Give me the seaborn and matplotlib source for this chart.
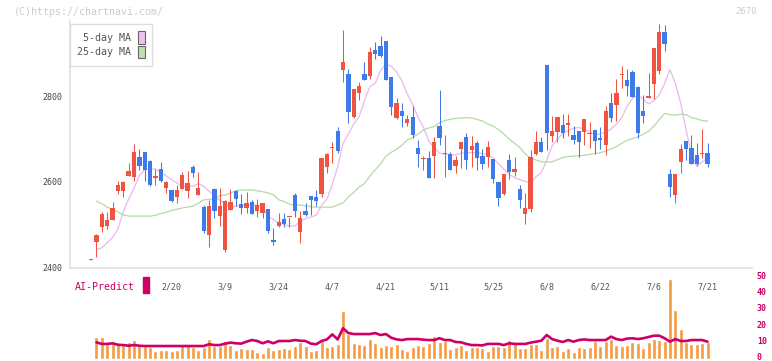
import numpy as np
import pandas as pd
import matplotlib
matplotlib.use("Agg")
import matplotlib.pyplot as plt
from matplotlib.patches import Patch, Rectangle
from matplotlib.transforms import ScaledTranslation
import seaborn as sns

# daily candles (oldest -> newest)
opens = [2418, 2459, 2495, 2497, 2511, 2579, 2579, 2613, 2612, 2658,
         2670, 2649, 2609, 2630, 2586, 2581, 2565, 2583, 2579, 2635,
         2569, 2541, 2475, 2583, 2520, 2440, 2534, 2578, 2548, 2539,
         2553, 2532, 2528, 2536, 2464, 2497, 2513, 2517, 2570, 2483,
         2532, 2567, 2564, 2571, 2635, 2678, 2719, 2861, 2852, 2751,
         2808, 2852, 2847, 2908, 2918, 2929, 2845, 2749, 2765, 2738,
         2751, 2679, 2653, 2655, 2660, 2730, 2664, 2665, 2637, 2677,
         2705, 2674, 2690, 2660, 2658, 2653, 2600, 2571, 2651, 2623,
         2583, 2525, 2536, 2665, 2693, 2873, 2707, 2716, 2733, 2733,
         2709, 2719, 2716, 2711, 2721, 2702, 2686, 2784, 2780, 2849,
         2838, 2857, 2822, 2765, 2796, 2829, 2859, 2950, 2618, 2569,
         2646, 2695, 2679, 2663, 2665, 2668]
highs = [2421, 2479, 2529, 2529, 2553, 2602, 2602, 2645, 2688, 2677,
         2670, 2651, 2630, 2646, 2602, 2581, 2592, 2623, 2625, 2639,
         2623, 2546, 2557, 2585, 2585, 2557, 2583, 2581, 2571, 2576,
         2557, 2560, 2551, 2536, 2492, 2527, 2527, 2519, 2574, 2532,
         2551, 2567, 2581, 2655, 2668, 2693, 2728, 2955, 2864, 2817,
         2833, 2880, 2915, 2927, 2941, 2929, 2845, 2796, 2784, 2756,
         2777, 2698, 2660, 2672, 2705, 2815, 2709, 2670, 2660, 2693,
         2714, 2707, 2695, 2677, 2695, 2653, 2600, 2618, 2665, 2658,
         2592, 2574, 2674, 2719, 2705, 2873, 2754, 2751, 2759, 2759,
         2730, 2719, 2747, 2740, 2721, 2728, 2777, 2808, 2840, 2871,
         2864, 2861, 2824, 2803, 2855, 2913, 2969, 2967, 2630, 2618,
         2688, 2695, 2709, 2690, 2723, 2690]
lows = [2418, 2425, 2483, 2490, 2511, 2571, 2565, 2613, 2602, 2628,
        2602, 2590, 2592, 2600, 2574, 2553, 2550, 2583, 2562, 2611,
        2569, 2480, 2447, 2515, 2497, 2436, 2534, 2543, 2525, 2527,
        2525, 2518, 2515, 2481, 2452, 2494, 2494, 2495, 2518, 2458,
        2520, 2522, 2543, 2565, 2621, 2645, 2667, 2833, 2737, 2748,
        2791, 2838, 2841, 2887, 2892, 2838, 2756, 2747, 2728, 2730,
        2702, 2635, 2628, 2609, 2609, 2686, 2611, 2628, 2621, 2632,
        2630, 2635, 2628, 2630, 2635, 2597, 2543, 2569, 2607, 2614,
        2539, 2501, 2529, 2663, 2670, 2674, 2693, 2693, 2702, 2707,
        2688, 2658, 2686, 2679, 2665, 2677, 2663, 2740, 2742, 2819,
        2800, 2798, 2702, 2737, 2796, 2793, 2852, 2906, 2564, 2550,
        2621, 2651, 2641, 2639, 2655, 2635]
closes = [2421, 2476, 2526, 2511, 2539, 2592, 2600, 2625, 2670, 2638,
          2628, 2593, 2614, 2602, 2600, 2555, 2581, 2616, 2597, 2620,
          2586, 2485, 2543, 2532, 2543, 2555, 2553, 2560, 2539, 2551,
          2525, 2546, 2551, 2486, 2460, 2507, 2501, 2519, 2532, 2516,
          2522, 2557, 2555, 2655, 2665, 2680, 2673, 2880, 2763, 2817,
          2824, 2838, 2904, 2899, 2894, 2838, 2775, 2784, 2754, 2747,
          2709, 2665, 2656, 2609, 2693, 2702, 2666, 2628, 2651, 2693,
          2651, 2684, 2655, 2641, 2681, 2607, 2562, 2618, 2623, 2630,
          2557, 2539, 2658, 2693, 2670, 2715, 2719, 2751, 2714, 2737,
          2698, 2693, 2747, 2713, 2695, 2698, 2765, 2749, 2808, 2851,
          2824, 2798, 2714, 2754, 2800, 2913, 2950, 2922, 2588, 2618,
          2677, 2677, 2641, 2642, 2668, 2642]

nan = np.nan
ma5 = [nan, 2442, 2446, 2458, 2470, 2490, 2530, 2560, 2585, 2615,
       2629, 2630, 2630, 2622, 2614, 2606, 2597, 2590, 2589, 2590,
       2596, 2590, 2578, 2568, 2557, 2550, 2540, 2543, 2545, 2546,
       2546, 2546, 2540, 2520, 2512, 2504, 2500, 2497, 2497, 2508,
       2514, 2518, 2522, 2545, 2560, 2595, 2635, 2690, 2712, 2735,
       2752, 2790, 2822, 2830, 2860, 2875, 2870, 2857, 2835, 2805,
       2780, 2750, 2728, 2695, 2680, 2667, 2665, 2663, 2663, 2667,
       2668, 2668, 2668, 2666, 2663, 2656, 2642, 2630, 2617, 2610,
       2605, 2601, 2598, 2612, 2622, 2650, 2684, 2700, 2713, 2720,
       2725, 2727, 2722, 2717, 2710, 2712, 2716, 2723, 2735, 2750,
       2776, 2795, 2803, 2793, 2782, 2790, 2803, 2830, 2862, 2830,
       2784, 2721, 2667, 2635, 2647, 2655]
ma25 = [nan, 2555, 2549, 2541, 2535, 2530, 2523, 2520, 2520, 2520,
        2520, 2520, 2522, 2526, 2529, 2533, 2536, 2539, 2541, 2543,
        2550, 2558, 2559, 2560, 2568, 2569, 2574, 2579, 2581, 2581,
        2581, 2579, 2577, 2574, 2570, 2558, 2554, 2548, 2546, 2546,
        2544, 2542, 2541, 2541, 2541, 2541, 2546, 2551, 2565, 2575,
        2588, 2596, 2613, 2628, 2642, 2660, 2669, 2676, 2686, 2698,
        2703, 2712, 2721, 2726, 2729, 2738, 2743, 2746, 2748, 2749,
        2750, 2749, 2746, 2742, 2735, 2730, 2722, 2712, 2700, 2690,
        2680, 2665, 2656, 2651, 2647, 2646, 2647, 2652, 2657, 2659,
        2660, 2661, 2662, 2664, 2666, 2668, 2672, 2677, 2682, 2690,
        2697, 2701, 2705, 2711, 2718, 2730, 2745, 2760, 2757, 2756,
        2758, 2757, 2750, 2747, 2743, 2742]

volume = [0, 13.6, 13.6, 9.3, 10.1, 9.9, 8.6, 10.5, 11.7, 9.3,
          8.0, 7.2, 4.9, 5.6, 5.6, 4.9, 5.6, 9.3, 9.3, 7.2,
          5.6, 7.2, 12.3, 8.0, 8.0, 11.1, 8.6, 5.6, 6.8, 6.2,
          6.2, 4.3, 3.7, 7.4, 5.6, 6.2, 6.8, 6.2, 8.0, 10.5,
          8.0, 4.9, 5.6, 11.1, 7.4, 8.0, 9.3, 29.6, 15.4, 9.9,
          9.3, 8.6, 12.3, 9.9, 7.4, 8.6, 8.0, 9.3, 6.2, 4.9,
          7.4, 8.6, 8.0, 9.9, 14.2, 10.5, 11.1, 6.2, 7.4, 8.6,
          5.6, 7.4, 7.4, 6.8, 4.9, 8.0, 8.0, 7.4, 11.7, 9.9,
          6.8, 6.8, 9.3, 9.3, 5.6, 13.0, 7.4, 8.0, 4.9, 6.8,
          4.3, 7.4, 6.8, 7.4, 11.1, 8.0, 11.1, 12.3, 8.6, 8.0,
          8.6, 10.5, 9.9, 6.8, 10.5, 12.3, 11.7, 11.1, 49.4, 30.2,
          18.5, 10.5, 9.3, 9.3, 9.9, 10.5]
ai_predict = [nan, 10.3, 9.3, 9.3, 9.7, 8.8, 8.6, 8.2, 8.6, 8.2,
              8.0, 8.0, 8.0, 8.0, 8.0, 8.0, 8.0, 8.0, 8.0, 8.0,
              8.0, 8.0, 9.1, 8.6, 8.6, 9.5, 10.1, 9.7, 9.5, 10.7,
              11.7, 11.1, 9.7, 10.9, 9.7, 11.1, 11.1, 11.1, 11.7, 11.3,
              11.1, 9.5, 9.1, 11.1, 12.1, 15.2, 12.1, 19.0, 16.0, 15.4,
              15.4, 15.4, 15.4, 16.0, 14.8, 15.4, 13.1, 12.1, 11.7, 12.3,
              12.3, 12.3, 11.9, 11.7, 11.7, 12.8, 11.7, 11.7, 10.5, 10.3,
              9.3, 8.6, 8.6, 8.4, 9.3, 9.3, 9.3, 8.6, 9.7, 9.3,
              9.3, 9.3, 10.1, 10.7, 11.3, 14.8, 12.3, 11.3, 10.5, 11.7,
              10.7, 11.7, 12.1, 11.7, 11.7, 11.7, 11.7, 13.8, 12.3, 11.7,
              12.6, 12.8, 12.3, 12.8, 13.6, 14.4, 14.4, 12.8, 10.7, 12.3,
              11.1, 11.1, 11.7, 11.7, 11.7, 10.7]

date_labels = ["2/20", "3/9", "3/24", "4/7", "4/21", "5/11",
               "5/25", "6/8", "6/22", "7/6", "7/21"]
first_label_day = 15   # candle index of 2/20, then every 10 sessions
last_price_text = "2670"

RED = "#f0533f"
BLUE = "#3e7be9"
ORANGE = "#f39a43"
MAGENTA = "#cc0066"
PINK = "#eab8ec"
GREEN = "#b5daa5"
AXIS = "#dddddd"
TXT = "#555555"

df = pd.DataFrame({"open": opens, "high": highs, "low": lows, "close": closes,
                   "ma5": ma5, "ma25": ma25, "volume": volume, "ai": ai_predict})
df["day"] = np.arange(len(df))
df["color"] = np.where(df["close"] >= df["open"], RED, BLUE)

sns.set_theme(style="white")
plt.rcParams["font.family"] = ["DejaVu Sans Mono"]

W, H = 772, 361
fig = plt.figure(figsize=(W / 100, H / 100), dpi=100)


def box(l, t, r, b):
    return [l / W, 1 - b / H, (r - l) / W, (b - t) / H]


xlim = (-3.94, 123.3)

# volume + AI prediction panel
ax_vol = fig.add_axes(box(70, 278, 752, 359))
ax_vol.patch.set_alpha(0)
sns.barplot(data=df, x="day", y="volume", native_scale=True, color=ORANGE,
            saturation=1, width=0.75, errorbar=None, ax=ax_vol)
sns.lineplot(data=df, x="day", y="ai", color=MAGENTA, lw=1.9, ax=ax_vol)
ax_vol.set_xlim(xlim)
ax_vol.set_ylim(0, 50)
ax_vol.set_xticks([])
ax_vol.yaxis.tick_right()
ax_vol.set_yticks(range(0, 51, 10))
ax_vol.tick_params(axis="y", length=0, pad=3.5, labelsize=6, labelcolor=MAGENTA)
lift = ScaledTranslation(0, 2.5 / 100, fig.dpi_scale_trans)
for lab in ax_vol.get_yticklabels():
    lab.set_fontweight("bold")
    lab.set_transform(lab.get_transform() + lift)
for s in ax_vol.spines.values():
    s.set_visible(False)
ax_vol.set_xlabel("")
ax_vol.set_ylabel("")

# price panel
ax = fig.add_axes(box(70, 20, 752, 267.5))
ax.patch.set_alpha(0)
ax.vlines(df["day"], df["low"], df["high"], colors=df["color"], lw=0.75, zorder=2)
body = (df["close"] - df["open"]).abs().clip(lower=2.5)
bottom = df[["open", "close"]].min(axis=1)
ax.bar(df["day"], body, bottom=bottom, width=0.8, color=df["color"], linewidth=0, zorder=3)
sns.lineplot(data=df, x="day", y="ma5", color=PINK, lw=0.9, ax=ax, zorder=1)
sns.lineplot(data=df, x="day", y="ma25", color=GREEN, lw=0.9, ax=ax, zorder=1)

ax.set_xlim(xlim)
ax.set_ylim(2400, 2978)
ax.set_xlabel("")
ax.set_ylabel("")
for side in ["top", "right"]:
    ax.spines[side].set_visible(False)
for side in ["left", "bottom"]:
    ax.spines[side].set_color(AXIS)
    ax.spines[side].set_linewidth(1.1)

ax.set_yticks([2400, 2600, 2800])
ax.tick_params(axis="y", direction="inout", length=6.5, width=1, color=AXIS,
               pad=2, labelsize=6, labelcolor="#444444")
label_pos = list(range(first_label_day, len(df), 10))
ax.set_xticks(label_pos)
ax.set_xticklabels(date_labels)
ax.set_xticks(np.linspace(xlim[0], xlim[1], 12), minor=True)
ax.tick_params(axis="x", which="major", length=0, pad=11, labelsize=6, labelcolor=TXT)
ax.tick_params(axis="x", which="minor", direction="inout", length=6.5, width=1.1, color=AXIS)

handles = [Patch(facecolor="#f0c0f0", edgecolor="#666666", lw=0.8, label="5-day MA"),
           Patch(facecolor="#c0e0b0", edgecolor="#666666", lw=0.8, label="25-day MA")]
leg = ax.legend(handles=handles, loc="upper left", bbox_to_anchor=(0, 1 - 4 / 247.5),
                borderaxespad=0, markerfirst=False, fancybox=False, framealpha=1,
                edgecolor=AXIS, fontsize=7.2, handlelength=0.7, handleheight=1.6,
                labelspacing=0.18, borderpad=0.7, handletextpad=0.7, labelcolor=TXT)
leg.get_frame().set_linewidth(1)

fig.text(14 / W, 1 - 12 / H, "(C)https://chartnavi.com/", color="#cccccc",
         fontsize=7.2, va="center", ha="left")
fig.text(757 / W, 1 - 12 / H, last_price_text, color="#cccccc",
         fontsize=6.5, va="center", ha="right")
fig.text(75 / W, 1 - 287 / H, "AI-Predict", color=MAGENTA, fontsize=7.2,
         va="center", ha="left")
fig.add_artist(Rectangle((143 / W, 1 - 293 / H), 6 / W, 16 / H,
                         transform=fig.transFigure, color=MAGENTA))

fig.savefig("out.png", dpi=100)
